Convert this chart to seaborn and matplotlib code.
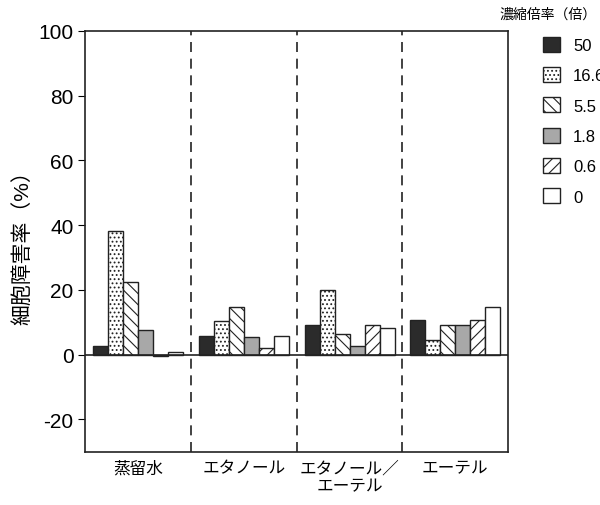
import pandas as pd
import matplotlib.pyplot as plt
import seaborn as sns
from matplotlib.patches import Patch

plt.rcParams['font.family'] = ['Liberation Sans', 'Noto Sans CJK JP']
plt.rcParams['hatch.linewidth'] = 0.8
plt.rcParams['axes.unicode_minus'] = False

groups = ['蒸留水', 'エタノール', 'エタノール／\nエーテル', 'エーテル']
ratios = ['50', '16.6', '5.5', '1.8', '0.6', '0']
values = {
    '50':   [2.8, 5.7, 9.1, 10.7],
    '16.6': [38.1, 10.4, 19.9, 4.4],
    '5.5':  [22.6, 14.7, 6.4, 9.1],
    '1.8':  [7.7, 5.6, 2.6, 9.1],
    '0.6':  [-0.5, 2.1, 9.1, 10.8],
    '0':    [0.7, 5.7, 8.4, 14.6],
}
colors = ['#2b2b2b', 'white', 'white', '#a8a8a8', 'white', 'white']
hatches = ['', '....', '\\\\\\', '', '///', '']

rows = []
for r in ratios:
    for g, v in zip(groups, values[r]):
        rows.append({'group': g, 'ratio': r, 'value': v})
df = pd.DataFrame(rows)

fig = plt.figure(figsize=(6.0, 5.06), dpi=100)
ax = fig.add_axes([0.142, 0.105, 0.705, 0.832])
sns.barplot(data=df, x='group', y='value', hue='ratio', hue_order=ratios,
            width=0.85, palette=colors, edgecolor='#222222', linewidth=1.0,
            ax=ax, legend=False)
for cont, h in zip(ax.containers, hatches):
    for p in cont.patches:
        p.set_hatch(h)

ax.axhline(0, color='#222222', lw=1.2)
for x in [0.5, 1.5, 2.5]:
    ax.axvline(x, color='#222222', lw=1.2, ls=(0, (6, 4)))
ax.set_xlim(-0.5, 3.5)
ax.set_ylim(-30, 100)
ax.set_yticks([-20, 0, 20, 40, 60, 80, 100])
ax.tick_params(axis='y', labelsize=15, direction='out', length=5)
ax.tick_params(axis='x', labelsize=12, length=0, pad=6)
ax.set_xlabel('')
ax.set_ylabel('細胞障害率（%）', fontsize=15)
for s in ax.spines.values():
    s.set_color('#222222')
    s.set_linewidth(1.2)

# legend
fig.text(0.995, 0.985, '濃縮倍率（倍）', ha='right', va='top', fontsize=10)
handles = [Patch(facecolor=c, edgecolor='#222222', hatch=h) for c, h in zip(colors, hatches)]
fig.legend(handles, ratios, loc='upper left', bbox_to_anchor=(0.88, 0.955),
           frameon=False, fontsize=12, handlelength=1.0, handleheight=1.0,
           handletextpad=0.8, labelspacing=0.85)

fig.savefig('out.png', dpi=100)
